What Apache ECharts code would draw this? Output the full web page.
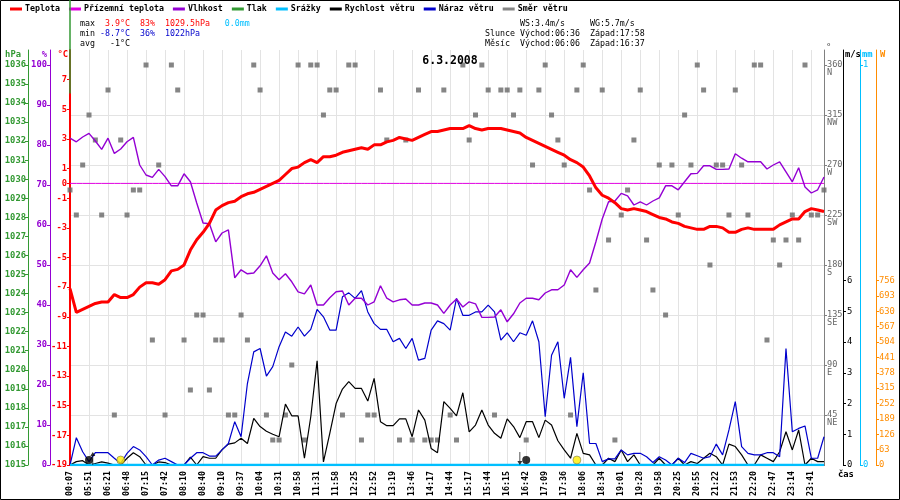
<!DOCTYPE html>
<html><head><meta charset="utf-8">
<script src="https://cdn.jsdelivr.net/npm/echarts@6/dist/echarts.min.js"></script>
<style>html,body{margin:0;padding:0;background:#fff}#c{width:900px;height:500px}</style>
</head><body><div id="c"></div>
<script>
const timeLabels = ['00:07','05:51','06:21','06:48','07:15','07:42','08:10','08:40','09:10','09:37',
  '10:04','10:31','10:58','11:31','11:58','12:25','12:52','13:19','13:46','14:17',
  '14:44','15:17','15:44','16:15','16:42','17:09','17:36','18:06','18:34','19:01',
  '19:28','19:58','20:25','20:55','21:22','21:53','22:20','22:47','23:14','23:41'];

const temperature = [-7.1,-8.7,-8.5,-8.3,-8.1,-8.0,-8.0,-7.5,-7.7,-7.7,
  -7.5,-7.0,-6.7,-6.7,-6.8,-6.5,-5.9,-5.8,-5.5,-4.5,
  -3.8,-3.3,-2.7,-1.8,-1.5,-1.3,-1.2,-0.9,-0.7,-0.6,
  -0.4,-0.2,0.0,0.2,0.6,1.0,1.1,1.4,1.6,1.4,
  1.8,1.8,1.9,2.1,2.2,2.3,2.4,2.3,2.6,2.6,
  2.8,2.9,3.1,3.0,2.9,3.1,3.3,3.5,3.5,3.6,
  3.7,3.7,3.7,3.9,3.7,3.6,3.7,3.7,3.7,3.6,
  3.5,3.4,3.1,2.9,2.7,2.5,2.3,2.1,1.9,1.6,
  1.4,1.1,0.5,-0.3,-0.8,-1.0,-1.3,-1.7,-1.8,-1.7,
  -1.8,-1.9,-2.1,-2.3,-2.4,-2.6,-2.7,-2.9,-3.0,-3.1,
  -3.1,-2.9,-2.9,-3.0,-3.3,-3.3,-3.1,-3.0,-3.1,-3.1,
  -3.1,-3.1,-2.8,-2.6,-2.4,-2.4,-1.9,-1.7,-1.8,-1.9];

const groundTemp = [0,0,0,0,0,0,0,0,0,0, 0,0,0,0,0,0,0,0,0,0, 0,0,0,0,0,0,0,0,0,0,
  0,0,0,0,0,0,0,0,0,0, 0,0,0,0,0,0,0,0,0,0, 0,0,0,0,0,0,0,0,0,0,
  0,0,0,0,0,0,0,0,0,0, 0,0,0,0,0,0,0,0,0,0, 0,0,0,0,0,0,0,0,0,0,
  0,0,0,0,0,0,0,0,0,0, 0,0,0,0,0,0,0,0,0,0, 0,0,0,0,0,0,0,0,0,0];

const humidity = [81.7,80.8,82.0,82.9,81.0,78.9,81.7,77.9,79.0,80.8,
  81.9,75.0,72.5,71.9,73.9,72.1,69.8,69.8,72.8,70.8,
  65.5,60.5,60.3,55.8,58.0,58.8,46.8,48.8,47.8,48.0,
  49.8,52.3,48.0,46.3,47.8,45.8,43.3,42.8,45.0,40.0,
  40.0,41.8,43.3,43.5,40.0,41.7,41.7,40.0,40.8,44.8,
  41.7,40.8,41.3,41.5,40.0,40.0,40.5,40.5,40.0,37.9,
  40.0,41.5,39.5,40.8,40.3,36.9,36.9,37.0,38.8,35.8,
  37.8,40.5,41.7,41.7,41.3,43.0,43.8,43.8,45.0,48.8,
  46.9,48.8,50.5,55.8,61.5,65.8,66.0,67.9,67.3,65.0,
  65.8,65.0,66.0,66.8,69.8,69.8,68.8,70.8,72.8,72.9,
  74.8,74.8,73.9,73.9,74.0,77.8,76.7,75.8,75.8,75.8,
  74.0,75.0,75.8,73.3,70.8,74.3,69.5,68.0,68.8,72.0];

const windSpeed = [0,0.11,0.14,0,0.05,0.1,0.06,0,0,0.22,
  0.4,0.27,0,0,0.1,0.08,0,0,0,0.26,
  0,0.27,0.22,0.22,0.5,0.68,0.72,0.87,0.7,1.52,
  1.25,1.1,1.0,0.92,1.98,1.6,1.6,0.22,1.57,3.39,
  0.1,1.03,2.0,2.47,2.71,2.49,2.49,2.08,2.82,1.41,
  1.28,1.28,1.5,1.5,0.92,1.79,1.46,0.54,0.4,2.06,
  1.84,1.6,2.35,1.08,1.3,1.79,1.3,1.03,0.87,1.5,
  1.25,0.89,1.41,1.41,0.89,1.46,1.3,0.79,0.49,0.22,
  1.03,0.38,0.33,0,0,0.22,0.11,0.49,0.11,0.33,
  0,0,0,0.22,0,0,0.22,0,0.11,0.05,
  0.22,0.38,0.27,0,0.68,0.6,0.33,0,0,0.33,
  0.22,0.11,0.43,1.08,0.49,1.14,0,0.22,0.11,0.11];

const windGust = [0,0.89,0.43,0.11,0.4,0.4,0.4,0.22,0.05,0.38,
  0.6,0.49,0.27,0,0.16,0.22,0.11,0,0,0.22,
  0.4,0.4,0.29,0.29,0.49,0.7,1.41,0.92,2.65,3.68,
  3.79,2.89,3.2,3.85,4.33,4.19,4.49,4.19,4.41,5.06,
  4.82,4.39,4.39,5.47,5.6,5.42,5.67,4.98,4.6,4.41,
  4.41,4.01,4.12,3.79,4.12,3.41,3.47,4.39,4.69,4.6,
  4.39,5.42,4.87,4.87,4.98,4.98,5.2,4.98,4.06,4.3,
  4.01,4.3,4.22,4.69,4.01,1.57,3.57,4.01,2.17,3.5,
  1.25,3.0,0.7,0.7,0.11,0.2,0.2,0.49,0.33,0.38,
  0.38,0.27,0.08,0.27,0.16,0,0.22,0.08,0.38,0.3,
  0.22,0.27,0.68,0.33,1.14,2.06,0.6,0.38,0.33,0.33,
  0.4,0.4,0.27,3.79,1.08,1.19,1.27,0.22,0.22,0.92];

const windDir = [247.5,225,270,315,292.5,225,337.5,45,292.5,225,
  247.5,247.5,360,112.5,270,45,360,337.5,112.5,67.5,
  135,135,67.5,112.5,112.5,45,45,135,112.5,360,
  337.5,45,22.5,22.5,45,90,360,22.5,360,360,
  315,337.5,337.5,45,360,360,22.5,45,45,337.5,
  292.5,null,22.5,292.5,22.5,337.5,22.5,22.5,22.5,337.5,
  45,22.5,360,292.5,315,360,337.5,45,337.5,337.5,
  315,337.5,22.5,270,337.5,360,315,292.5,270,45,
  337.5,360,247.5,157.5,337.5,202.5,22.5,225,247.5,292.5,
  337.5,202.5,157.5,270,135,270,225,315,270,360,
  337.5,180,270,270,225,337.5,270,225,360,360,
  112.5,202.5,180,202.5,225,202.5,360,225,225,247.5];

const precipitation = [0,0,0,0,0,0,0,0,0,0, 0,0,0,0,0,0,0,0,0,0, 0,0,0,0,0,0,0,0,0,0,
  0,0,0,0,0,0,0,0,0,0, 0,0,0,0,0,0,0,0,0,0, 0,0,0,0,0,0,0,0,0,0,
  0,0,0,0,0,0,0,0,0,0, 0,0,0,0,0,0,0,0,0,0, 0,0,0,0,0,0,0,0,0,0,
  0,0,0,0,0,0,0,0,0,0, 0,0,0,0,0,0,0,0,0,0, 0,0,0,0,0,0,0,0,0,0];

const pressure = [[0, 1034.5], [0, 1040]];
const moonIdx = [3, 72];
const sunIdx = [8, 80];
const moonRiseArrow = [3.6];
const moonSetArrow = [71];

const tempTicks = [-19,-17,-15,-13,-11,-9,-7,-5,-3,-1,0,1,3,5,7];
const humTicks = [0,10,20,30,40,50,60,70,80,90,100];
const pressTicks = [1015,1016,1017,1018,1019,1020,1021,1022,1023,1024,1025,1026,1027,1028,1029,1030,1031,1032,1033,1034,1035,1036];
const dirTicks = [45,90,135,180,225,270,315,360];
const dirNames = ['NE','E','SE','S','SW','W','NW','N'];
const windTicks = [0,1,2,3,4,5,6];
const rainTicks = [0,1];
const powerTicks = [0,63,126,189,252,315,378,441,504,567,630,693,756];

const FONT = 'DejaVu Sans Mono';
const FS = 8.3;
const series2d = arr => arr.map((v, i) => [i, v]);

function yAx(o) {
  const c = o.color;
  return {
    type: 'value', position: o.pos, offset: o.offset, min: o.min, max: o.max,
    interval: o.interval,
    name: o.name, nameLocation: 'end', nameGap: 0,
    nameTextStyle: {color: c, fontFamily: FONT, fontSize: FS + 0.5, fontWeight: 'bold',
      align: o.pos === 'left' ? 'right' : 'left', verticalAlign: 'top',
      padding: o.pos === 'left' ? [0, o.namePad, 0, 0] : [0, 0, 0, o.namePad]},
    axisLine: {show: true, lineStyle: {color: o.lineColor || c, width: o.lw || 1}},
    axisTick: {show: true, length: 3, customValues: o.ticks, lineStyle: {color: o.lineColor || c}},
    axisLabel: {show: true, customValues: o.ticks, color: o.labelColor || c, fontFamily: FONT,
      fontSize: o.fs || FS + 0.5, fontWeight: o.fw || 'bold', margin: o.margin,
      formatter: o.formatter || (v => String(v)), lineHeight: o.lineHeight},
    splitLine: o.split ? {show: true, showMaxLine: false, lineStyle: {color: '#e3e3e3', width: 1}} : {show: false}
  };
}

const chart = echarts.init(document.getElementById('c'), null, {renderer: 'canvas'});
chart.setOption({
  animation: false,
  backgroundColor: '#fff',
  textStyle: {fontFamily: FONT},
  title: {text: '6.3.2008', left: 'center', top: 50,
    textStyle: {fontFamily: FONT, fontSize: 11.5, fontWeight: 'bold', color: '#000'}},
  legend: {
    left: 10, top: 5, padding: 0, itemWidth: 12, itemHeight: 3, itemGap: 9, icon: 'rect',
    textStyle: {fontFamily: FONT, fontSize: FS, fontWeight: 'bold', color: '#000', padding: [0, 0, 0, -2]},
    data: ['Teplota','Přízemní teplota','Vlhkost','Tlak','Srážky','Rychlost větru','Náraz větru','Směr větru']
  },
  grid: {left: 70, right: 76, top: 50, bottom: 35, containLabel: false},
  xAxis: {
    type: 'value', min: 0, max: 119, interval: 3,
    name: 'čas', nameLocation: 'end', nameGap: 14,
    nameTextStyle: {color: '#000', fontFamily: FONT, fontSize: FS + 0.5, fontWeight: 'bold',
      align: 'left', verticalAlign: 'top', padding: [5, 0, 0, 0]},
    axisLine: {show: true, onZero: false, lineStyle: {color: '#000', width: 1}},
    axisTick: {show: false},
    axisLabel: {rotate: 90, margin: 6, color: '#000', fontFamily: FONT, fontSize: FS,
      fontWeight: 'bold', showMaxLabel: false,
      formatter: v => (v % 3 === 0 && timeLabels[v / 3]) ? timeLabels[v / 3] : ''},
    splitLine: {show: true, lineStyle: {color: '#e3e3e3', width: 1}}
  },
  yAxis: [
    yAx({pos: 'left', offset: 0, min: -19, max: 9, color: '#ff0000', name: '°C', namePad: 2,
      ticks: tempTicks, margin: 3, lw: 2}),
    yAx({pos: 'left', offset: 20, min: 0, max: 103.75, color: '#9400d3', name: '%', namePad: 3,
      ticks: humTicks, margin: 3}),
    yAx({pos: 'left', offset: 42, min: 1015, max: 1036.7875, color: '#339933', name: 'hPa', namePad: 7,
      ticks: pressTicks, margin: 2}),
    yAx({pos: 'right', offset: 0, min: 0, max: 373.5, interval: 22.5, color: '#666', lineColor: '#808080',
      name: '°', namePad: 2, ticks: dirTicks, margin: 3, split: true, fw: 'normal', fs: FS + 0.3,
      lineHeight: 8,
      formatter: v => { const k = dirTicks.indexOf(v); return k < 0 ? '' : ' \n' + v + '\n' + dirNames[k]; }}),
    yAx({pos: 'right', offset: 19, min: 0, max: 13.5, color: '#000', name: 'm/s', namePad: 2,
      ticks: windTicks, margin: 4, fw: 'normal'}),
    yAx({pos: 'right', offset: 36, min: 0, max: 1.0375, color: '#00bfff', name: 'mm', namePad: 2,
      ticks: rainTicks, margin: 3, fw: 'normal'}),
    yAx({pos: 'right', offset: 52, min: 0, max: 1701, color: '#ff8c00', name: 'W', namePad: 4,
      ticks: powerTicks, margin: 3, fw: 'normal'})
  ],
  series: [
    {name: 'Směr větru', type: 'scatter', yAxisIndex: 3, symbol: 'rect', symbolSize: 5,
      itemStyle: {color: '#666'},
      data: windDir.map((d, i) => [i, d]).filter(p => p[1] != null), z: 2},
    {name: 'Přízemní teplota', type: 'line', yAxisIndex: 0, showSymbol: false,
      lineStyle: {color: '#e000e0', width: 1}, itemStyle: {color: '#e000e0'}, data: series2d(groundTemp), z: 3},
    {name: 'Rychlost větru', type: 'line', yAxisIndex: 4, showSymbol: false,
      lineStyle: {color: '#000', width: 1.2}, itemStyle: {color: '#000'}, data: series2d(windSpeed), z: 3},
    {name: 'Náraz větru', type: 'line', yAxisIndex: 4, showSymbol: false,
      lineStyle: {color: '#0000cc', width: 1.2}, itemStyle: {color: '#0000cc'}, data: series2d(windGust), z: 4},
    {name: 'Vlhkost', type: 'line', yAxisIndex: 1, showSymbol: false,
      lineStyle: {color: '#9400d3', width: 1.4}, itemStyle: {color: '#9400d3'}, data: series2d(humidity), z: 4},
    {name: 'Teplota', type: 'line', yAxisIndex: 0, showSymbol: false,
      lineStyle: {color: '#ff0000', width: 3}, itemStyle: {color: '#ff0000'}, data: series2d(temperature), z: 5},
    {name: 'Srážky', type: 'line', yAxisIndex: 5, showSymbol: false,
      lineStyle: {color: '#00bfff', width: 2.5}, itemStyle: {color: '#00bfff'}, data: series2d(precipitation), z: 5},
    {name: 'Tlak', type: 'line', yAxisIndex: 2, showSymbol: false, clip: false,
      lineStyle: {color: '#339933', width: 1.5}, itemStyle: {color: '#339933'}, data: pressure, z: 6},
    {name: 'moon', type: 'scatter', yAxisIndex: 4, symbol: 'circle', symbolSize: 8, symbolOffset: [0, -5],
      itemStyle: {color: '#000'}, data: moonIdx.map(i => [i, 0]), z: 7},
    {name: 'sun', type: 'scatter', yAxisIndex: 4, symbol: 'circle', symbolSize: 8, symbolOffset: [0, -5],
      itemStyle: {color: '#ffee00', borderColor: '#555', borderWidth: 0.6}, data: sunIdx.map(i => [i, 0]), z: 7},
    {name: 'moonrise', type: 'scatter', yAxisIndex: 4,
      symbol: 'path://M3,0 L6,4 L3.5,4 L3.5,13 L2.5,13 L2.5,4 L0,4 Z', symbolSize: [5, 13], symbolOffset: [0, -6.5],
      itemStyle: {color: '#000'}, data: moonRiseArrow.map(i => [i, 0]), z: 7},
    {name: 'moonset', type: 'scatter', yAxisIndex: 4, symbolRotate: 180,
      symbol: 'path://M3,0 L6,4 L3.5,4 L3.5,13 L2.5,13 L2.5,4 L0,4 Z', symbolSize: [5, 13], symbolOffset: [0, -6.5],
      itemStyle: {color: '#000'}, data: moonSetArrow.map(i => [i, 0]), z: 7}
  ],
  graphic: [
    {type: 'rect', silent: true, shape: {x: 0.5, y: 0.5, width: 899, height: 499},
      style: {fill: 'none', stroke: '#000', lineWidth: 1}},
    {type: 'text', silent: true, x: 80, y: 24, style: {
      text: 'max  {r|3.9°C}  {r|83%}  {r|1029.5hPa}   {c|0.0mm}',
      fontFamily: FONT, fontSize: FS, fill: '#000', verticalAlign: 'middle',
      rich: {r: {fill: '#ff0000', fontFamily: FONT, fontSize: FS}, c: {fill: '#00bfff', fontFamily: FONT, fontSize: FS}}}},
    {type: 'text', silent: true, x: 80, y: 34, style: {
      text: 'min {b|-8.7°C}  {b|36%}  {b|1022hPa}',
      fontFamily: FONT, fontSize: FS, fill: '#000', verticalAlign: 'middle',
      rich: {b: {fill: '#0000cc', fontFamily: FONT, fontSize: FS}}}},
    {type: 'text', silent: true, x: 80, y: 44, style: {
      text: 'avg   -1°C', fontFamily: FONT, fontSize: FS, fill: '#000', verticalAlign: 'middle'}},
    {type: 'text', silent: true, x: 485, y: 24, style: {
      text: '       WS:3.4m/s     WG:5.7m/s', fontFamily: FONT, fontSize: FS, fill: '#000', verticalAlign: 'middle'}},
    {type: 'text', silent: true, x: 485, y: 34, style: {
      text: 'Slunce Východ:06:36  Západ:17:58', fontFamily: FONT, fontSize: FS, fill: '#000', verticalAlign: 'middle'}},
    {type: 'text', silent: true, x: 485, y: 44, style: {
      text: 'Měsíc  Východ:06:06  Západ:16:37', fontFamily: FONT, fontSize: FS, fill: '#000', verticalAlign: 'middle'}}
  ]
});
</script>
</body></html>
